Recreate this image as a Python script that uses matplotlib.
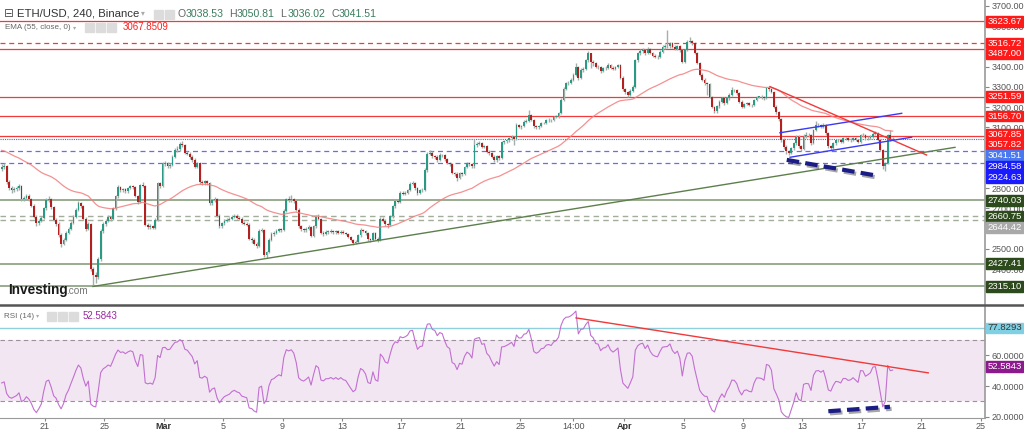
import numpy as np
import matplotlib.pyplot as plt
from matplotlib.patches import Rectangle
import matplotlib.patheffects as pe

plt.rcParams['font.family'] = ['Liberation Sans', 'DejaVu Sans']

# ETH/USD 4h candles, Feb 18 00:00 -> Apr 19 00:00 (one row = one day)
first_open = 2895
closes = [
    2905, 2910, 2830, 2800, 2790, 2795,
    2800, 2810, 2745, 2750, 2762, 2745,
    2712, 2660, 2628, 2640, 2655, 2700,
    2740, 2745, 2705, 2645, 2625, 2570,
    2525, 2545, 2580, 2600, 2630, 2660,
    2695, 2725, 2710, 2650, 2600, 2625,
    2400, 2370, 2360, 2450, 2590, 2625,
    2640, 2660, 2650, 2700, 2760, 2805,
    2790, 2795, 2785, 2800, 2810, 2805,
    2760, 2730, 2815, 2812, 2620, 2610,
    2615, 2605, 2645, 2825, 2810, 2920,
    2925, 2910, 2915, 2955, 2990, 2995,
    3020, 3012, 2975, 2970, 2955, 2940,
    2905, 2925, 2830, 2825, 2835, 2825,
    2725, 2740, 2745, 2665, 2612, 2628,
    2640, 2645, 2650, 2660, 2665, 2655,
    2650, 2630, 2625, 2620, 2550, 2545,
    2525, 2515, 2590, 2595, 2470, 2485,
    2545, 2575, 2580, 2590, 2598, 2592,
    2690, 2745, 2740, 2748, 2735, 2695,
    2612, 2598, 2592, 2600, 2610, 2565,
    2612, 2660, 2650, 2580, 2575, 2585,
    2585, 2590, 2582, 2588, 2580, 2586,
    2578, 2575, 2560, 2545, 2530, 2535,
    2568, 2595, 2590, 2578, 2548, 2545,
    2578, 2550, 2545, 2650, 2640, 2622,
    2618, 2662, 2710, 2735, 2732, 2775,
    2772, 2778, 2790, 2822, 2826, 2800,
    2776, 2790, 2793, 2890, 2970, 2975,
    2958, 2955, 2940, 2965, 2962, 2942,
    2925, 2920, 2875, 2870, 2850, 2875,
    2872, 2905, 2925, 2920, 2908, 3012,
    3020, 3024, 3005, 3008, 2980, 2972,
    2955, 2940, 2957, 2948, 3030, 3032,
    3038, 3046, 3055, 3045, 3112, 3104,
    3105, 3128, 3132, 3160, 3138, 3105,
    3100, 3106, 3120, 3122, 3135, 3138,
    3136, 3150, 3155, 3170, 3238, 3292,
    3318, 3320, 3335, 3360, 3400, 3345,
    3384, 3388, 3432, 3466, 3425, 3418,
    3400, 3398, 3378, 3392, 3395, 3410,
    3396, 3390, 3398, 3408, 3345, 3288,
    3275, 3262, 3280, 3300, 3432, 3466,
    3480, 3485, 3466, 3490, 3468, 3455,
    3450, 3448, 3475, 3498, 3500, 3502,
    3515, 3498, 3490, 3500, 3482, 3425,
    3485, 3524, 3526, 3515, 3468, 3420,
    3360, 3335, 3318, 3316, 3252, 3200,
    3180, 3205, 3228, 3244, 3220, 3244,
    3260, 3285, 3284, 3268, 3228, 3203,
    3218, 3220, 3212, 3210, 3236, 3252,
    3252, 3250, 3244, 3293, 3290, 3276,
    3203, 3175, 3140, 3040, 3006, 2982,
    2975, 2998, 3022, 3055, 3008, 2995,
    3060, 3064, 3062, 3022, 3088, 3110,
    3112, 3104, 3112, 3072, 3008, 3000,
    3022, 3038, 3036, 3030, 3046, 3046,
    3038, 3040, 3046, 3038, 3030, 3063,
    3062, 3046, 3050, 3055, 3070, 3071,
    3040, 2990, 2910, 2925, 3065, 3038.53,
    3041.51,
]
highs = [
    2918, 2925, 2915, 2842, 2812, 2806,
    2812, 2822, 2815, 2760, 2770, 2770,
    2752, 2720, 2668, 2648, 2662, 2708,
    2752, 2760, 2750, 2712, 2655, 2632,
    2578, 2552, 2590, 2608, 2640, 2668,
    2702, 2738, 2732, 2715, 2658, 2632,
    2630, 2410, 2385, 2460, 2598, 2635,
    2648, 2668, 2665, 2708, 2768, 2815,
    2812, 2802, 2800, 2808, 2818, 2815,
    2810, 2768, 2820, 2830, 2818, 2630,
    2622, 2620, 2652, 2832, 2830, 2928,
    2935, 2930, 2925, 2962, 2998, 3010,
    3030, 3035, 3018, 2985, 2978, 2962,
    2948, 2932, 2930, 2840, 2842, 2840,
    2830, 2748, 2755, 2752, 2672, 2635,
    2648, 2652, 2658, 2668, 2672, 2672,
    2662, 2658, 2640, 2632, 2628, 2560,
    2552, 2535, 2598, 2605, 2600, 2492,
    2552, 2582, 2588, 2598, 2605, 2602,
    2698, 2752, 2760, 2765, 2752, 2740,
    2700, 2620, 2606, 2608, 2618, 2615,
    2618, 2668, 2672, 2655, 2590, 2592,
    2595, 2598, 2596, 2595, 2594, 2592,
    2592, 2585, 2580, 2566, 2550, 2542,
    2575, 2602, 2600, 2595, 2582, 2555,
    2585, 2582, 2558, 2658, 2660, 2648,
    2630, 2670, 2718, 2745, 2742, 2785,
    2785, 2788, 2798, 2830, 2838, 2832,
    2808, 2798, 2800, 2898, 2978, 2990,
    2982, 2966, 2962, 2972, 2970, 2968,
    2948, 2932, 2926, 2882, 2878, 2882,
    2882, 2912, 2932, 2930, 2926, 3045,
    3028, 3032, 3030, 3015, 3012, 2988,
    2978, 2962, 2962, 2965, 3035, 3040,
    3042, 3052, 3062, 3060, 3120, 3118,
    3112, 3135, 3140, 3185, 3165, 3142,
    3110, 3112, 3126, 3128, 3140, 3145,
    3142, 3156, 3160, 3175, 3245, 3300,
    3325, 3330, 3342, 3368, 3418, 3405,
    3392, 3398, 3440, 3480, 3470, 3435,
    3425, 3410, 3405, 3398, 3402, 3418,
    3416, 3405, 3404, 3415, 3412, 3352,
    3295, 3282, 3288, 3308, 3440, 3475,
    3488, 3492, 3490, 3498, 3495, 3472,
    3462, 3458, 3482, 3505, 3510, 3580,
    3522, 3520, 3505, 3508, 3505, 3488,
    3490, 3530, 3545, 3532, 3520, 3472,
    3425, 3368, 3342, 3325, 3322, 3258,
    3205, 3212, 3235, 3250, 3252, 3250,
    3268, 3300, 3292, 3290, 3274, 3235,
    3222, 3228, 3226, 3218, 3242, 3258,
    3258, 3260, 3255, 3300, 3305, 3295,
    3280, 3210, 3182, 3145, 3048, 3012,
    2990, 3005, 3030, 3065, 3062, 3015,
    3068, 3078, 3072, 3068, 3095, 3130,
    3120, 3118, 3122, 3118, 3078, 3015,
    3028, 3045, 3045, 3040, 3052, 3055,
    3052, 3048, 3054, 3052, 3044, 3070,
    3072, 3068, 3056, 3062, 3078, 3082,
    3078, 3045, 2995, 2930, 3070, 3088,
    3050.81,
]
lows = [
    2885, 2896, 2822, 2790, 2778, 2782,
    2785, 2792, 2738, 2735, 2742, 2738,
    2705, 2652, 2615, 2620, 2632, 2650,
    2692, 2730, 2698, 2638, 2612, 2560,
    2512, 2518, 2538, 2572, 2592, 2622,
    2652, 2688, 2702, 2642, 2590, 2595,
    2390, 2315, 2330, 2352, 2440, 2580,
    2612, 2632, 2640, 2645, 2692, 2752,
    2782, 2780, 2775, 2778, 2795, 2798,
    2755, 2722, 2725, 2805, 2612, 2598,
    2600, 2598, 2600, 2640, 2802, 2805,
    2908, 2900, 2902, 2908, 2948, 2980,
    2985, 3005, 2968, 2962, 2945, 2932,
    2898, 2898, 2822, 2815, 2818, 2815,
    2715, 2718, 2732, 2658, 2605, 2605,
    2620, 2632, 2638, 2642, 2652, 2648,
    2642, 2625, 2618, 2612, 2542, 2532,
    2518, 2505, 2510, 2582, 2462, 2458,
    2478, 2538, 2565, 2572, 2582, 2585,
    2588, 2682, 2730, 2732, 2728, 2688,
    2605, 2590, 2582, 2585, 2595, 2558,
    2558, 2605, 2642, 2572, 2565, 2568,
    2575, 2578, 2575, 2576, 2572, 2574,
    2572, 2568, 2552, 2538, 2518, 2525,
    2528, 2560, 2582, 2570, 2540, 2535,
    2538, 2542, 2535, 2540, 2632, 2612,
    2605, 2612, 2655, 2700, 2725, 2728,
    2765, 2765, 2772, 2785, 2815, 2792,
    2768, 2770, 2782, 2788, 2882, 2962,
    2950, 2945, 2932, 2935, 2952, 2935,
    2918, 2912, 2868, 2860, 2835, 2845,
    2862, 2865, 2898, 2912, 2900, 2902,
    3002, 3012, 2998, 2998, 2975, 2962,
    2948, 2930, 2932, 2940, 2942, 3018,
    3025, 3030, 3040, 3015, 3040, 3098,
    3095, 3100, 3120, 3125, 3132, 3098,
    3092, 3094, 3100, 3115, 3118, 3128,
    3128, 3130, 3145, 3148, 3165, 3232,
    3285, 3308, 3315, 3330, 3355, 3335,
    3340, 3375, 3382, 3425, 3395, 3405,
    3392, 3388, 3370, 3372, 3385, 3388,
    3390, 3382, 3385, 3392, 3338, 3278,
    3265, 3250, 3255, 3275, 3295, 3425,
    3458, 3470, 3460, 3462, 3462, 3448,
    3442, 3440, 3445, 3470, 3490, 3492,
    3495, 3492, 3482, 3485, 3475, 3418,
    3420, 3478, 3515, 3508, 3462, 3412,
    3352, 3328, 3310, 3260, 3245, 3195,
    3170, 3172, 3198, 3220, 3212, 3215,
    3238, 3255, 3275, 3262, 3222, 3198,
    3198, 3210, 3205, 3202, 3205, 3230,
    3244, 3242, 3236, 3240, 3282, 3270,
    3195, 3168, 3130, 3030, 2995, 2968,
    2962, 2968, 2990, 3015, 3000, 2985,
    2988, 3050, 3055, 3015, 3018, 3082,
    3100, 3098, 3098, 3065, 3000, 2990,
    2995, 3015, 3028, 3024, 3025, 3038,
    3032, 3030, 3035, 3032, 3024, 3025,
    3055, 3040, 3040, 3045, 3050, 3062,
    3035, 2985, 2895, 2885, 2918, 3032,
    3036.02,
]

ema_seed = 2990          # EMA(55) value at the left edge
rsi_seed = (13.0, 19.0)  # avg gain / avg loss at the left edge

# horizontal levels
red_solid = [3623.67, 3487.00, 3251.59, 3156.70, 3057.82]
red_dashed = [3516.72]
blue_dotted = [3041.51]
blue_dashed = [2984.58, 2924.63]
green_solid = [2740.03, 2427.41, 2315.10]
green_dashed = [2660.75, 2644.42]

# axis tags (price, background)
tags = [(3623.67, '#ff1a1a'), (3516.72, '#ff1a1a'), (3487.00, '#ff1a1a'),
        (3251.59, '#ff1a1a'), (3156.70, '#ff1a1a'), (3067.85, '#ff1a1a'),
        (3057.82, '#ff1a1a'), (3041.51, '#4a78f0'), (2984.58, '#1a1aff'),
        (2924.63, '#1a1aff'), (2740.03, '#2d4a1c'), (2660.75, '#2d4a1c'),
        (2644.42, '#a9a9a9'), (2427.41, '#2d4a1c'), (2315.10, '#2d4a1c')]

# price scale values that are not hidden behind the tags
price_ticks = [2400, 2500, 2700, 2800, 3100, 3200, 3300, 3400, 3600, 3700]
rsi_ticks = [20, 40, 60]

# drawn trendlines (day, price)
green_trend = [(6.23, 2315), (64.28, 3002)]
red_trend = [(51.82, 3302), (62.37, 2964)]
blue_top = [(52.49, 3074), (60.69, 3170)]
blue_bot = [(53.17, 2953), (61.36, 3052)]
navy_main = [(52.95, 2940), (59.11, 2861)]
rsi_red = [(38.76, 84.4), (62.48, 48.6)]
rsi_navy = [(55.75, 23.6), (59.9, 26.5)]

tick_days = [3, 7, 11, 15, 19, 23, 27, 31, 35, 38.583, 42, 46, 50, 54, 58, 62, 66]
tick_text = ['21', '25', 'Mar', '5', '9', '13', '17', '21', '25', '14:00',
             'Apr', '5', '9', '13', '17', '21', '25']

W, H = 1024, 430
closes = np.array(closes, float)
highs = np.array(highs, float)
lows = np.array(lows, float)
opens = np.concatenate([[first_open], closes[:-1]])
x = np.arange(len(closes)) / 6 + 1 / 12

ema = []
e = ema_seed
for c in closes:
    e += (c - e) * 2 / 56
    ema.append(e)

rsi = []
ag, al = rsi_seed
for d in np.diff(np.concatenate([[first_open], closes])):
    ag = (ag * 13 + max(d, 0)) / 14
    al = (al * 13 + max(-d, 0)) / 14
    rsi.append(100 - 100 / (1 + ag / al))

fig = plt.figure(figsize=(W / 100, H / 100), dpi=100)
main_top, main_bot = 0, 304
rsi_top, rsi_bot = 307, 418
ax = fig.add_axes([0, 1 - main_bot / H, 985 / W, (main_bot - main_top) / H])
ax2 = fig.add_axes([0, 1 - rsi_bot / H, 985 / W, (rsi_bot - rsi_top) / H], sharex=ax)
ylo, yhi = 2228.4, 3729.6
ax.set_ylim(ylo, yhi)
ax.set_xlim(-0.03, 66.3)
ax2.set_ylim(19.2, 91.5)

for a in (ax, ax2):
    for s in ('top', 'left', 'bottom'):
        a.spines[s].set_visible(False)
    a.spines['right'].set_color('#9a9a9a')
    a.spines['right'].set_linewidth(1.2)
    a.yaxis.tick_right()
    a.tick_params(axis='y', length=3, width=0.8, color='#888', labelsize=6.5,
                  labelcolor='#555', pad=2)
ax2.spines['bottom'].set_visible(True)
ax2.spines['bottom'].set_color('#9a9a9a')
ax.tick_params(axis='x', bottom=False, labelbottom=False)

ax.set_yticks(price_ticks)
ax.set_yticklabels([f'{v:.2f}' for v in price_ticks])
ax2.set_yticks(rsi_ticks)
ax2.set_yticklabels([f'{v:.4f}' for v in rsi_ticks])
ax2.set_xticks(tick_days)
ax2.set_xticklabels(tick_text)
ax2.tick_params(axis='x', length=2, color='#888', labelsize=6.5, labelcolor='#555', pad=1)
for lbl in ax2.get_xticklabels():
    if lbl.get_text() in ('Mar', 'Apr'):
        lbl.set_fontweight('bold')
        lbl.set_color('#333')

# horizontal levels
for v in red_solid:
    ax.axhline(v, color='#f23a3a', lw=0.9, zorder=1)
for v in red_dashed:
    ax.axhline(v, color='#f23a3a', lw=0.9, ls=(0, (4, 3)), zorder=1)
for v in blue_dotted:
    ax.axhline(v, color='#4a68e8', lw=0.8, ls=(0, (1, 1)), zorder=1)
for v in blue_dashed:
    ax.axhline(v, color='#6a6af5', lw=0.9, ls=(0, (4, 3)), zorder=1)
for v in green_solid:
    ax.axhline(v, color='#7d9670', lw=1.1, zorder=1)
for v in green_dashed:
    ax.axhline(v, color='#a3ad9c', lw=1.0, ls=(0, (4, 3)), zorder=1)

# candles
up = closes >= opens
ax.vlines(x, lows, highs, color='#a3b0aa', lw=1.0, zorder=2)
body = np.maximum(np.abs(closes - opens), 2)
ax.bar(x[up], body[up], bottom=np.minimum(opens, closes)[up], width=0.12,
       color='#2b9a84', lw=0, zorder=3)
ax.bar(x[~up], body[~up], bottom=np.minimum(opens, closes)[~up], width=0.12,
       color='#b3201f', lw=0, zorder=3)

ax.plot(x, ema, color='#f27f7f', lw=0.9, alpha=0.85, zorder=4)

# trendlines
def seg(a, pts, **kw):
    a.plot([p[0] for p in pts], [p[1] for p in pts], **kw)

seg(ax, green_trend, color='#5d7f4b', lw=1.0, zorder=5)
seg(ax, red_trend, color='#f03a3a', lw=1.0, zorder=5)
seg(ax, blue_top, color='#3a3af5', lw=1.0, zorder=5)
seg(ax, blue_bot, color='#3a3af5', lw=1.0, zorder=5)
shadow = [pe.SimpleLineShadow(offset=(1.2, -1.5), alpha=0.35), pe.Normal()]
seg(ax, navy_main, color='#1c1c86', lw=3, ls=(0, (3, 1.5)), zorder=6,
    solid_capstyle='butt', path_effects=shadow)

# RSI panel
ax2.axhspan(30, 70, color='#f3e6f3', lw=0, zorder=0)
ax2.axhline(70, color='#9b909b', lw=0.8, ls=(0, (4, 3)), zorder=1)
ax2.axhline(30, color='#9b909b', lw=0.8, ls=(0, (4, 3)), zorder=1)
ax2.axhline(77.8293, color='#8fd0dc', lw=1.0, zorder=1)
ax2.plot(x, rsi, color='#c170d0', lw=0.8, zorder=3)
seg(ax2, rsi_red, color='#f03a3a', lw=1.0, zorder=4)
seg(ax2, rsi_navy, color='#1c1c86', lw=3, ls=(0, (3, 1.5)), zorder=5,
    path_effects=shadow)

# separator between panels
fig.add_artist(plt.Line2D([0, 1], [1 - 305 / H] * 2, color='#555', lw=1.8,
                          transform=fig.transFigure))

# right axis tags, pushed apart so they don't overlap
def tag(ypx, txt, bg, fg='white'):
    fig.add_artist(Rectangle((986 / W, 1 - (ypx + 5.3) / H), 37 / W, 10.6 / H,
                             color=bg, transform=fig.transFigure, zorder=10))
    fig.text(1004.5 / W, 1 - ypx / H, txt, color=fg, fontsize=6.8,
             ha='center', va='center', zorder=11)

prev = -99
for v, bg in tags:
    ypx = main_top + (yhi - v) / (yhi - ylo) * (main_bot - main_top)
    ypx = max(ypx, prev + 10.8)
    prev = ypx
    tag(ypx, f'{v:.2f}', bg)

for v, bg, fg in [(77.8293, '#7fd0e2', '#333'), (52.5843, '#8c1a8c', 'white')]:
    ypx = rsi_top + (91.5 - v) / (91.5 - 19.2) * (rsi_bot - rsi_top)
    tag(ypx, f'{v:.4f}', bg, fg)

# header texts
def icons(xs, ypx):
    for xx in xs:
        fig.add_artist(Rectangle((xx / W, 1 - (ypx + 4.5) / H), 9 / W, 9 / H,
                                 color='#dcdcdc', transform=fig.transFigure))

fig.text(4 / W, 1 - 14 / H, '⊟', fontsize=8.5, color='#555', va='center')
fig.text(17 / W, 1 - 14 / H, 'ETH/USD, 240, Binance', fontsize=8.2, color='#333',
         va='center')
fig.text(141 / W, 1 - 14 / H, '▾', fontsize=5.5, color='#aaa', va='center')
icons([154, 165], 14)
xx = 178
for letter, val in [('O', '3038.53'), ('H', '3050.81'), ('L', '3036.02'), ('C', '3041.51')]:
    fig.text(xx / W, 1 - 14 / H, letter, fontsize=7.6, color='#666', va='center')
    fig.text((xx + 8) / W, 1 - 14 / H, val, fontsize=7.6, color='#3b7d5e', va='center')
    xx += 51

fig.text(5 / W, 1 - 27.5 / H, 'EMA (55, close, 0)', fontsize=5.8, color='#666', va='center')
fig.text(73 / W, 1 - 27.5 / H, '▾', fontsize=4.5, color='#aaa', va='center')
icons([85, 96, 107], 27.5)
fig.text(123 / W, 1 - 27.5 / H, '3067.8509', fontsize=7, color='#ff2020', va='center')

fig.text(4 / W, 1 - 316 / H, 'RSI (14)', fontsize=5.8, color='#666', va='center')
fig.text(36 / W, 1 - 316 / H, '▾', fontsize=4.5, color='#aaa', va='center')
icons([47, 58, 69], 316)
fig.text(83 / W, 1 - 316 / H, '52.5843', fontsize=7, color='#9a2aa0', va='center')

fig.text(8 / W, 1 - 290 / H, 'Investing', fontsize=9.8, fontweight='bold',
         color='#1a1a1a', va='center')
fig.text(66 / W, 1 - 291.5 / H, '.com', fontsize=7.2, color='#777', va='center')

fig.savefig('out.png', dpi=100)
